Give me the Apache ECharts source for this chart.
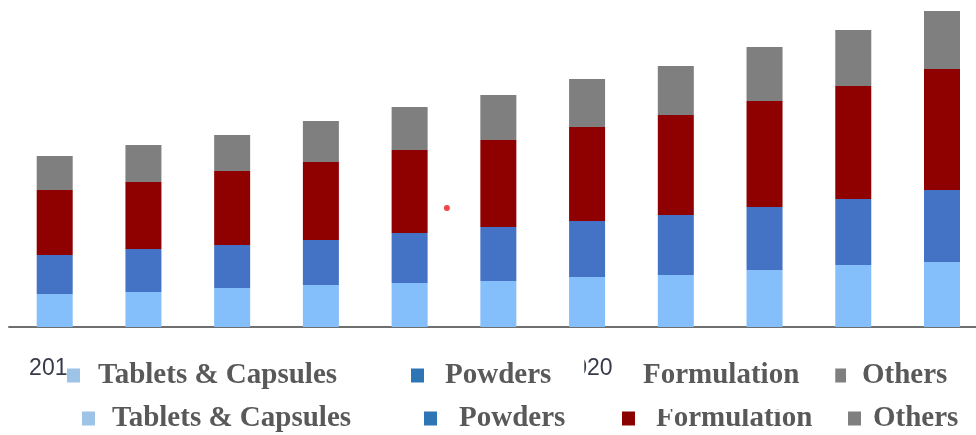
<!DOCTYPE html>
<html>
<head>
<meta charset="utf-8">
<script src="https://cdn.jsdelivr.net/npm/echarts@6/dist/echarts.min.js"></script>
<style>
  html, body { margin: 0; padding: 0; background: #ffffff; }
  #chart { width: 976px; height: 435px; }
</style>
</head>
<body>
<div id="chart"></div>
<script>
// Market split by dosage form, stacked per year
const years = ['2014', '2015', '2016', '2017', '2018', '2019', '2020', '2021', '2022', '2023', '2024'];
const tabletsCapsules = [3.3, 3.5, 3.9, 4.2, 4.4, 4.6, 5.0, 5.2, 5.7, 6.2, 6.5];
const powders         = [3.9, 4.3, 4.3, 4.5, 5.0, 5.4, 5.6, 6.0, 6.3, 6.6, 7.2];
const formulation     = [6.5, 6.7, 7.4, 7.8, 8.3, 8.7, 9.4, 10.0, 10.6, 11.3, 12.1];
const others          = [3.4, 3.7, 3.6, 4.1, 4.3, 4.5, 4.8, 4.9, 5.4, 5.6, 5.8];
// lone red dot between the 2018 and 2019 columns (x in year steps from 2014, y in value units)
const strayDot = [[4.42, 11.9]];

const barColors = {
  'Tablets & Capsules': '#84bffb',
  'Powders': '#4472c4',
  'Formulation': '#8f0000',
  'Others': '#7f7f7f'
};
const keyColors = {
  'Tablets & Capsules': '#9dc3e6',
  'Powders': '#2e75b6',
  'Formulation': '#8b0000',
  'Others': '#7f7f7f'
};

const keyText = {
  fontFamily: 'Liberation Serif',
  fontWeight: 'bold',
  fontSize: 29,
  color: '#595959'
};

// one legend block per entry so each key sits where it belongs
function key(name, left, top, padding, textPad, opts) {
  opts = opts || {};
  return {
    show: true,
    left: left,
    top: top,
    padding: padding,
    orient: 'horizontal',
    itemWidth: 13,
    itemHeight: 14,
    selectedMode: false,
    backgroundColor: opts.bg || 'transparent',
    z: opts.z || 5,
    data: [{
      name: name,
      icon: opts.noIcon ? 'none' : 'rect',
      itemStyle: { color: keyColors[name] }
    }],
    textStyle: Object.assign({}, keyText, { padding: [0, 0, 0, textPad] })
  };
}

const row1 = 361;   // content top of the upper key row
const row2 = 404;   // content top of the lower key row
const legends = [
  // upper row (white blocks)
  key('Tablets & Capsules', 67, row1 - 8, [8, 72, 10, 0], 13, { bg: '#ffffff', z: 10 }),
  key('Powders', 405, row1 - 8, [8, 33, 10, 6], 16, { bg: '#ffffff', z: 10 }),
  key('Formulation', 618, row1 - 8, [8, 36, 19, 0], 7, { bg: '#ffffff', z: 12, noIcon: true }),
  key('Others', 833, row1 - 8, [8, 80, 10, 0], 11, { bg: '#ffffff', z: 10 }),
  // lower row
  key('Tablets & Capsules', 82, row2, [0, 0, 0, 0], 12, { z: 6 }),
  key('Powders', 424, row2, [0, 0, 0, 0], 17, { z: 6 }),
  key('Formulation', 622, row2, [0, 0, 0, 0], 16, { z: 6 }),
  key('Others', 848, row2, [0, 0, 0, 0], 7, { z: 6 })
];

function barSeries(name, values) {
  return {
    name: name,
    type: 'bar',
    stack: 'total',
    barWidth: 36,
    clip: false,
    itemStyle: { color: barColors[name] },
    emphasis: { disabled: true },
    data: values
  };
}

const chart = echarts.init(document.getElementById('chart'), null, { renderer: 'canvas' });
chart.setOption({
  animation: false,
  backgroundColor: '#ffffff',
  grid: [
    // bars: first and last year sit on the grid edges
    { left: 54.7, top: 0, width: 887.3, bottom: 108 },
    // full-width baseline
    { left: 9, top: 0, right: 0, bottom: 108 }
  ],
  legend: legends,
  xAxis: [
    {
      type: 'category',
      gridIndex: 0,
      data: years,
      boundaryGap: false,
      axisLine: { show: false },
      axisTick: { show: false },
      axisLabel: {
        margin: 30,
        fontFamily: 'Liberation Sans',
        fontSize: 23,
        color: '#363a4a'
      }
    },
    {
      type: 'value',
      gridIndex: 0,
      min: 0,
      max: years.length - 1,
      show: false
    },
    {
      type: 'value',
      gridIndex: 1,
      min: 0,
      max: 1,
      axisLine: { show: true, onZero: false, lineStyle: { color: '#6f6f6f', width: 2 } },
      axisTick: { show: false },
      axisLabel: { show: false },
      splitLine: { show: false }
    }
  ],
  yAxis: [
    { type: 'value', gridIndex: 0, min: 0, max: 32.7, show: false, splitLine: { show: false } },
    { type: 'value', gridIndex: 1, min: 0, max: 1, show: false, splitLine: { show: false } }
  ],
  series: [
    barSeries('Tablets & Capsules', tabletsCapsules),
    barSeries('Powders', powders),
    barSeries('Formulation', formulation),
    barSeries('Others', others),
    {
      type: 'scatter',
      xAxisIndex: 1,
      yAxisIndex: 0,
      symbol: 'circle',
      symbolSize: 6,
      itemStyle: { color: '#e8191c' },
      silent: true,
      data: strayDot
    }
  ]
});
</script>
</body>
</html>
